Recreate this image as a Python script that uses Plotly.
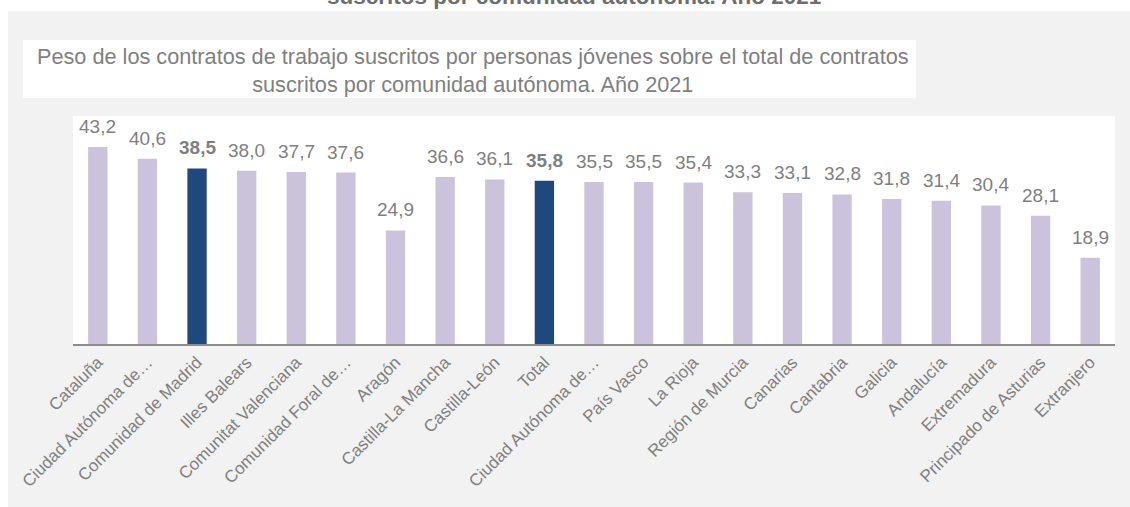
import plotly.graph_objects as go

# Regions and youth share of signed work contracts (%), 2021
categories = [
    "Cataluña", "Ciudad Autónoma de…", "Comunidad de Madrid", "Illes Balears",
    "Comunitat Valenciana", "Comunidad Foral de…", "Aragón", "Castilla-La Mancha",
    "Castilla-León", "Total", "Ciudad Autónoma de…", "País Vasco", "La Rioja",
    "Región de Murcia", "Canarias", "Cantabria", "Galicia", "Andalucía",
    "Extremadura", "Principado de Asturias", "Extranjero",
]
values = [43.2, 40.6, 38.5, 38.0, 37.7, 37.6, 24.9, 36.6, 36.1, 35.8, 35.5,
          35.5, 35.4, 33.3, 33.1, 32.8, 31.8, 31.4, 30.4, 28.1, 18.9]
highlighted = ["Comunidad de Madrid", "Total"]

title_text = ("Peso de los contratos de trabajo suscritos por personas jóvenes sobre el total de contratos"
              "<br>suscritos por comunidad autónoma. Año 2021")
header_text = "suscritos por comunidad autónoma. Año 2021"

FONT = "Liberation Sans, Arial, sans-serif"
GREY_TEXT = "#7F7F7F"
LIGHT = "#CBC3DC"
DARK = "#1F497D"

W, H = 1130, 507
PL, PR, PT, PB = 73, 1115, 116, 344  # plot area in pixels


def px(x):
    return (x - PL) / (PR - PL)


def py(y):
    return (PB - y) / (PB - PT)


xs = list(range(len(categories)))
colors = [DARK if c in highlighted else LIGHT for c in categories]

fig = go.Figure(go.Bar(
    x=xs, y=values, marker=dict(color=colors, line=dict(width=0)),
    hoverinfo="skip",
))

annotations = []
for x, c, v in zip(xs, categories, values):
    label = f"{v:.1f}".replace(".", ",")
    if c in highlighted:
        label = f"<b>{label}</b>"
    annotations.append(dict(
        x=x, y=v, xref="x", yref="y", text=label, showarrow=False,
        yanchor="bottom", xanchor="center", yshift=8,
        font=dict(family=FONT, size=19, color=GREY_TEXT),
    ))

# chart title inside its white box
annotations.append(dict(
    x=px(473), y=py(70), xref="paper", yref="paper", text=title_text,
    showarrow=False, xanchor="center", yanchor="middle", align="center",
    font=dict(family=FONT, size=21.7, color=GREY_TEXT),
))
# page header line running off the top edge
annotations.append(dict(
    x=px(574), y=py(11), xref="paper", yref="paper", text=f"<b>{header_text}</b>",
    showarrow=False, xanchor="center", yanchor="bottom",
    font=dict(family=FONT, size=22.5, color="#6E6E6E"),
))

shapes = [
    dict(type="rect", xref="paper", yref="paper", x0=px(8), x1=px(W + 5),
         y0=py(H + 5), y1=py(11), fillcolor="#F2F2F2", line=dict(width=0), layer="below"),
    dict(type="rect", xref="paper", yref="paper", x0=px(23), x1=px(916),
         y0=py(98), y1=py(40), fillcolor="white", line=dict(width=0), layer="below"),
    dict(type="rect", xref="paper", yref="paper", x0=0, x1=1,
         y0=0, y1=1, fillcolor="white", line=dict(width=0), layer="below"),
]

fig.update_layout(
    width=W, height=H, autosize=False,
    margin=dict(l=PL, r=W - PR, t=PT, b=H - PB, pad=0),
    paper_bgcolor="white", plot_bgcolor="rgba(0,0,0,0)",
    bargap=0.61, showlegend=False,
    annotations=annotations, shapes=shapes,
    xaxis=dict(
        range=[-0.5, len(categories) - 0.5], tickmode="array", tickvals=xs,
        ticktext=categories, tickangle=-45, showgrid=False, zeroline=False,
        showline=True, linecolor="#8C8C8C", linewidth=1.5, ticks="",
        tickfont=dict(family=FONT, size=17, color=GREY_TEXT), fixedrange=True,
    ),
    yaxis=dict(range=[0, 50], visible=False, fixedrange=True),
)

fig.write_html("out.html", config={"displayModeBar": False})
